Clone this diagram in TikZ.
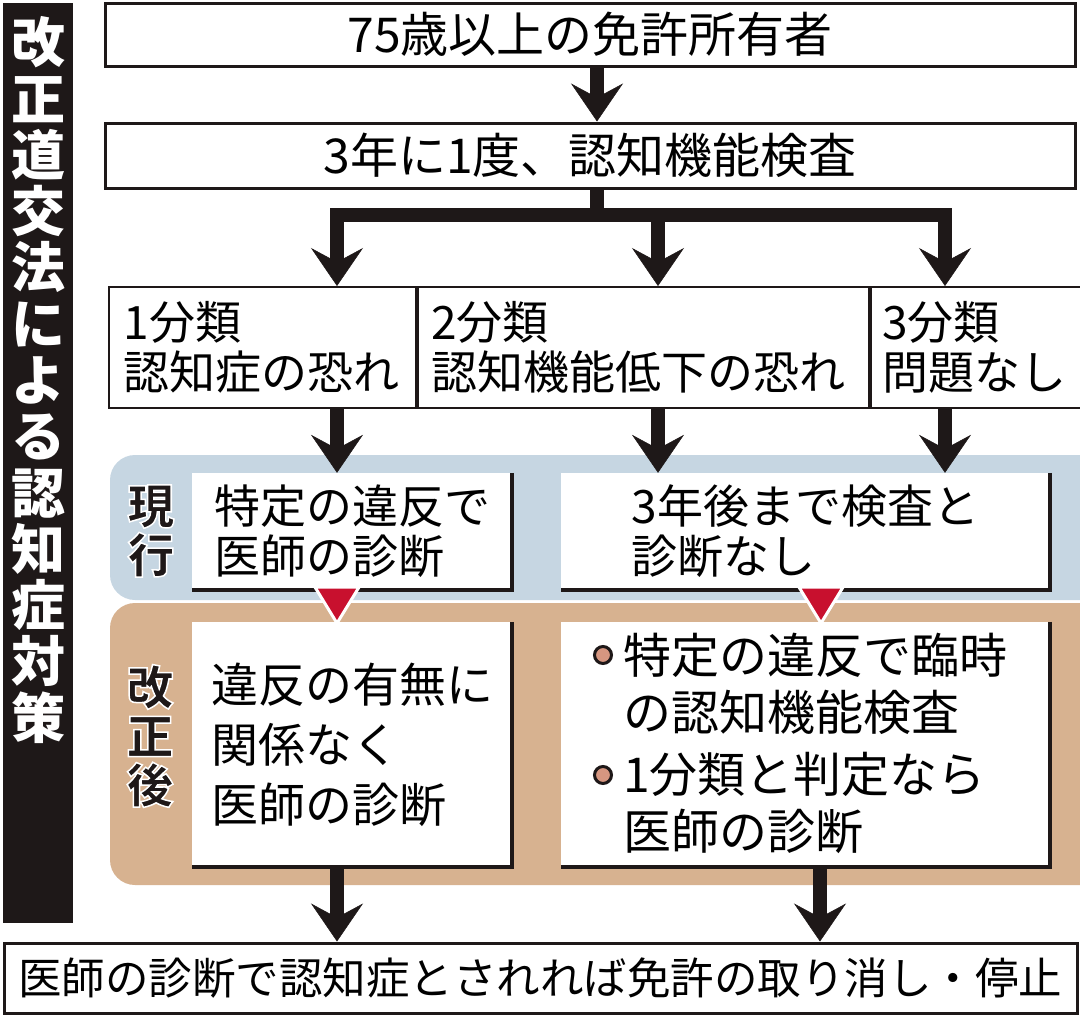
\documentclass[tikz,border=0pt]{standalone}
\usepackage{fontspec}
\setmainfont{Noto Sans CJK JP}
\usetikzlibrary{arrows.meta,positioning}

\definecolor{nowblue}{RGB}{198,214,226}
\definecolor{newtan}{RGB}{215,178,144}
\definecolor{markred}{RGB}{200,16,46}
\definecolor{dotfill}{RGB}{214,150,128}
\definecolor{inkblack}{RGB}{30,24,24}

% white rim round the band labels
\newcommand\rimtext[1]{\special{pdf:literal direct 2 Tr 1 1 1 RG 1.5 w}#1\special{pdf:literal direct 0 Tr 1 w}}

\begin{document}
\begin{tikzpicture}[x=1pt,y=-1pt,inner sep=0pt,
		box/.style={draw=inkblack,line width=3pt,fill=white,font=\fontsize{48}{52}\selectfont},
		class/.style={draw=inkblack,line width=2pt,fill=white,align=left,minimum height=121pt,font=\fontsize{46}{50}\selectfont},
		card/.style={fill=white,align=left,font=\fontsize{46}{50}\selectfont},
		fat/.style={draw=inkblack,line width=14pt},
		fatarrow/.style={fat,-{Stealth[length=38pt,width=52pt,inset=14pt,line width=0.5pt]}},
		shade/.style={draw=inkblack,line width=4pt},
		marker/.style={fill=markred,draw=white,line width=3pt,line join=miter},
		dot/.style={fill=dotfill,draw=inkblack,line width=3pt},
		lbl/.style={font=\bfseries\fontsize{47}{49}\selectfont,align=center,text=inkblack}]
	\useasboundingbox (0,0) rectangle (1080,1017);

	% bands
	\begin{scope}
		\clip (0,0) rectangle (1080,1017);
		\fill[nowblue,rounded corners=25pt] (110,455) rectangle (1130,600);
		\fill[newtan,rounded corners=25pt] (110,603) rectangle (1130,885);
	\end{scope}

	% title bar
	\fill[inkblack] (3,3) rectangle (73,923);
	\node[font=\bfseries\fontsize{54}{56.3}\selectfont,text=white,align=center] (title) at (38,380)
		{改\\正\\道\\交\\法\\に\\よ\\る\\認\\知\\症\\対\\策};

	% columns
	\coordinate (fork) at (597,215);
	\coordinate (colA) at (337,0);
	\coordinate (colB) at (658,0);
	\coordinate (colC) at (945,0);
	\coordinate (colD) at (820,0);

	\node[box,minimum width=970pt,minimum height=63pt] (holder) at (590,34.5) {75歳以上の免許所有者};
	\node[box,minimum width=970pt,minimum height=65pt,below=54pt of holder] (test) {3年に1度、認知機能検査};

	\node[class,minimum width=307pt,text width=278pt] (cls1) at (262.5,347.5) {1分類\\認知症の恐れ};
	\node[class,minimum width=451pt,text width=425pt,right=0pt of cls1] (cls2) {2分類\\認知機能低下の恐れ};
	\node[class,minimum width=210pt,text width=188pt,right=0pt of cls2] (cls3) {3分類\\問題なし};

	\node[card,minimum width=320pt,minimum height=117pt] (now1) at (352,531.5) {特定の違反で\\医師の診断};
	\node[card,minimum width=489pt,minimum height=117pt] (now2) at (805.5,531.5) {3年後まで検査と\\診断なし};
	\node[card,font=\fontsize{47}{60}\selectfont,minimum width=320pt,minimum height=245pt] (new1) at (352,744.5) {違反の有無に\\関係なく\\医師の診断};
	\node[card,minimum width=489pt,minimum height=245pt] (new2) at (805.5,744.5) {};
	\node[card,font=\fontsize{48}{57}\selectfont] (newtext) at (815,743) {特定の違反で臨時\\の認知機能検査\\[5pt]1分類と判定なら\\医師の診断};

	\node[box,font=\fontsize{43.5}{48}\selectfont,minimum width=1073pt,minimum height=70pt] (outcome) at (540.5,978)
		{医師の診断で認知症とされれば免許の取り消し・停止};

	% box shadows
	\foreach \b in {now1,now2,new1,new2}
		\draw[shade] (\b.north east) -- (\b.south east) -- (\b.south west);

	% bullets
	\filldraw[dot] (603,655) circle (8.5pt);
	\filldraw[dot] (603,775) circle (8.5pt);

	% band labels
	\node[lbl] (nowlbl) at (151,531) {\rimtext{現\\行}};
	\node[lbl] (newlbl) at (150,736) {\rimtext{改\\正\\後}};

	% arrows
	\draw[fatarrow] (holder.south -| fork) -- (test.north -| fork);
	\draw[fat] (test.south -| fork) -- (fork);
	\draw[fatarrow] (fork) -| (colA |- cls1.north);
	\draw[fatarrow] (fork) -| (colB |- cls2.north);
	\draw[fatarrow] (fork) -| (colC |- cls3.north);
	\draw[fatarrow] (colA |- cls1.south) -- (colA |- now1.north);
	\draw[fatarrow] (colB |- cls2.south) -- (colB |- now2.north);
	\draw[fatarrow] (colC |- cls3.south) -- (colC |- now2.north);
	\draw[fatarrow] (colA |- new1.south) -- (colA |- outcome.north);
	\draw[fatarrow] (colD |- new2.south) -- (colD |- outcome.north);

	% change markers
	\filldraw[marker] (colA |- now1.south) ++(-22,-3) -- ++(44,0) -- ++(-22,36) -- cycle;
	\filldraw[marker] (colD |- now2.south) ++(-21,-3) -- ++(44,0) -- ++(-22,36) -- cycle;
\end{tikzpicture}
\end{document}
